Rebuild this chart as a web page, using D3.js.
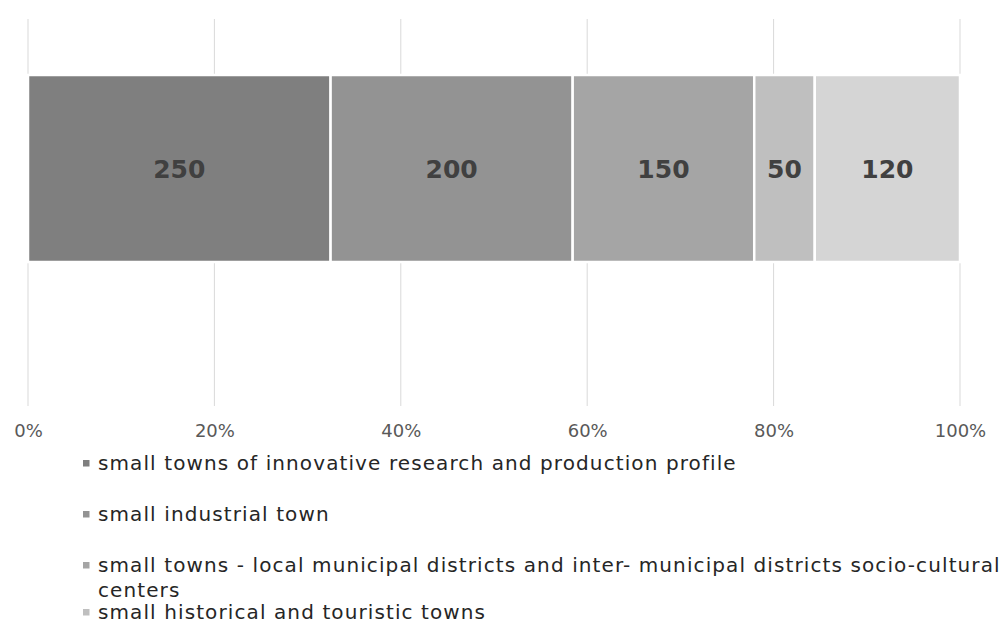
<!DOCTYPE html>
<html>
<head>
<meta charset="utf-8">
<script src="https://cdn.jsdelivr.net/npm/d3@7"></script>
<style>
  html, body { margin: 0; padding: 0; background: #fff; }
  svg { display: block; font-family: "DejaVu Sans", Verdana, sans-serif; }
</style>
</head>
<body>
<svg id="chart" width="1008" height="624"></svg>
<script>
// Town types and their counts, stacked as shares of the total
const categories = [
  "small towns of innovative research and production profile",
  "small industrial town",
  "small towns - local municipal districts and inter- municipal districts socio-cultural centers",
  "small historical and touristic towns",
  "other small towns"
];
const values = [250, 200, 150, 50, 120];
const colors = ["#7f7f7f", "#939393", "#a5a5a5", "#bfbfbf", "#d5d5d5"];
const tickValues = [0, 0.2, 0.4, 0.6, 0.8, 1.0];

const svg = d3.select("#chart");
const total = d3.sum(values);

const x = d3.scaleLinear().domain([0, 1]).range([28, 960]);
const y = d3.scaleBand().domain(["row"]).range([75, 262]).padding(0);

// Vertical gridlines
svg.append("g")
  .selectAll("line")
  .data(tickValues)
  .join("line")
  .attr("x1", d => x(d)).attr("x2", d => x(d))
  .attr("y1", 19).attr("y2", 406)
  .attr("stroke", "#d9d9d9")
  .attr("stroke-width", 1);

// Stack the shares
let acc = 0;
const segs = values.map((v, i) => {
  const s = { i, v, x0: acc / total, x1: (acc + v) / total };
  acc += v;
  return s;
});

const bars = svg.append("g");
bars.selectAll("rect")
  .data(segs)
  .join("rect")
  .attr("x", d => x(d.x0))
  .attr("y", y("row"))
  .attr("width", d => x(d.x1) - x(d.x0))
  .attr("height", y.bandwidth())
  .attr("fill", d => colors[d.i])
  .attr("stroke", "#fff")
  .attr("stroke-width", 2.5);

bars.selectAll("text")
  .data(segs)
  .join("text")
  .attr("x", d => (x(d.x0) + x(d.x1)) / 2)
  .attr("y", y("row") + y.bandwidth() / 2)
  .attr("dy", "0.36em")
  .attr("text-anchor", "middle")
  .attr("font-size", 25)
  .attr("font-weight", "bold")
  .attr("fill", "#404040")
  .text(d => d.v);

// Percentage axis labels
const axis = d3.axisBottom(x).tickValues(tickValues).tickFormat(d3.format(".0%")).tickSize(0).tickPadding(0);
const gAxis = svg.append("g").attr("transform", "translate(0,424)").call(axis);
gAxis.select(".domain").remove();
gAxis.selectAll("text")
  .attr("font-family", "DejaVu Sans, Verdana, sans-serif")
  .attr("font-size", 18)
  .attr("fill", "#595959")
  .attr("dy", "0.71em");

// Legend (the last entry falls below the visible area)
const legendRows = [
  { i: 0, lines: [categories[0]], y: 463 },
  { i: 1, lines: [categories[1]], y: 514 },
  { i: 2, lines: ["small towns - local municipal districts and inter- municipal districts socio-cultural", "centers"], y: 565 },
  { i: 3, lines: [categories[3]], y: 612 },
  { i: 4, lines: [categories[4]], y: 665 }
];
const lg = svg.append("g");
legendRows.forEach(r => {
  lg.append("rect")
    .attr("x", 83).attr("y", r.y - 3)
    .attr("width", 6.5).attr("height", 6.5)
    .attr("fill", colors[r.i]);
  const t = lg.append("text")
    .attr("x", 98).attr("y", r.y)
    .attr("font-size", 20)
    .attr("letter-spacing", 1.1)
    .attr("fill", "#262626");
  r.lines.forEach((ln, k) => {
    t.append("tspan").attr("x", 98).attr("dy", k === 0 ? "0.35em" : 25).text(ln);
  });
});
</script>
</body>
</html>
